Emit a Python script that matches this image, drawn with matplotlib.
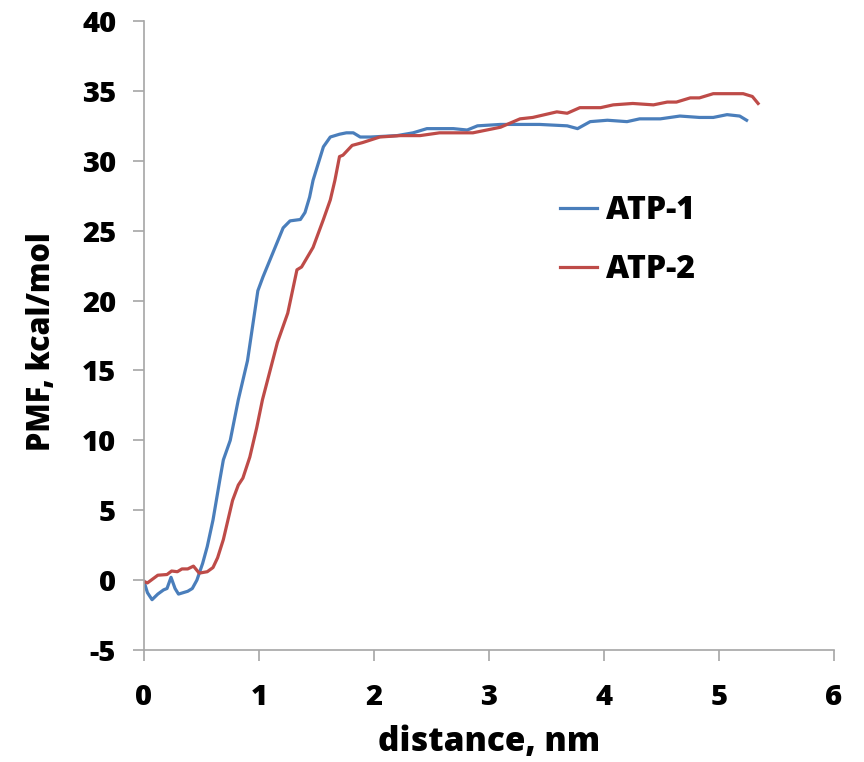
import matplotlib
matplotlib.use("Agg")
import matplotlib.pyplot as plt

# PMF curves
atp1_x = [0, 0.03, 0.07, 0.12, 0.17, 0.2, 0.235, 0.27, 0.3, 0.38, 0.42, 0.46,
          0.51, 0.55, 0.6, 0.66, 0.69, 0.75, 0.82, 0.9, 0.99, 1.035, 1.12, 1.21,
          1.27, 1.36, 1.40, 1.44, 1.47, 1.56, 1.62, 1.70, 1.76, 1.82, 1.88, 1.97,
          2.2, 2.34, 2.46, 2.69, 2.81, 2.9, 3.1, 3.27, 3.44, 3.68, 3.77, 3.88,
          4.03, 4.2, 4.31, 4.49, 4.66, 4.83, 4.95, 5.07, 5.18, 5.24]
atp1_y = [-0.1, -0.9, -1.4, -1.0, -0.7, -0.6, 0.2, -0.6, -1.0, -0.8, -0.6, 0.0,
          1.2, 2.4, 4.3, 7.2, 8.6, 10.0, 12.9, 15.7, 20.7, 21.7, 23.4, 25.2,
          25.7, 25.8, 26.3, 27.4, 28.6, 31.0, 31.7, 31.9, 32.0, 32.0, 31.7, 31.7,
          31.8, 32.0, 32.3, 32.3, 32.2, 32.5, 32.6, 32.6, 32.6, 32.5, 32.3, 32.8,
          32.9, 32.8, 33.0, 33.0, 33.2, 33.1, 33.1, 33.3, 33.2, 32.9]

atp2_x = [0, 0.03, 0.12, 0.2, 0.24, 0.29, 0.33, 0.38, 0.43, 0.48, 0.55, 0.6,
          0.64, 0.69, 0.77, 0.82, 0.86, 0.92, 0.98, 1.03, 1.16, 1.25, 1.33, 1.37,
          1.47, 1.56, 1.62, 1.66, 1.70, 1.73, 1.81, 1.90, 2.05, 2.23, 2.4, 2.57,
          2.86, 3.1, 3.27, 3.38, 3.59, 3.68, 3.79, 3.97, 4.08, 4.25, 4.43, 4.55,
          4.63, 4.75, 4.83, 4.95, 5.12, 5.21, 5.29, 5.34]
atp2_y = [-0.1, -0.2, 0.35, 0.4, 0.65, 0.6, 0.8, 0.8, 1.0, 0.5, 0.6, 0.9,
          1.6, 2.9, 5.7, 6.8, 7.3, 8.8, 10.9, 12.9, 17.0, 19.1, 22.2, 22.4,
          23.8, 25.8, 27.2, 28.6, 30.3, 30.4, 31.1, 31.3, 31.7, 31.8, 31.8, 32.0,
          32.0, 32.4, 33.0, 33.1, 33.5, 33.4, 33.8, 33.8, 34.0, 34.1, 34.0, 34.2,
          34.2, 34.5, 34.5, 34.8, 34.8, 34.8, 34.6, 34.1]

x_ticks = [0, 1, 2, 3, 4, 5, 6]
y_ticks = [-5, 0, 5, 10, 15, 20, 25, 30, 35, 40]

plt.rcParams["font.family"] = ["Open Sans", "DejaVu Sans"]
plt.rcParams["font.weight"] = "heavy"
plt.rcParams["axes.unicode_minus"] = False

fig = plt.figure(figsize=(8.64, 7.62), dpi=100)
ax = fig.add_axes([144 / 864, 1 - 650 / 762, 690 / 864, 629 / 762])

ax.plot(atp1_x, atp1_y, color="#4a7ebb", lw=2.3, label="ATP-1")
ax.plot(atp2_x, atp2_y, color="#be4b48", lw=2.3, label="ATP-2")

ax.set_xlim(0, 6)
ax.set_ylim(-5, 40)
ax.set_xticks(x_ticks)
ax.set_yticks(y_ticks)
ax.tick_params(labelsize=21, length=8, color="#a6a6a6", width=1.2)
ax.tick_params(axis="y", pad=12)
ax.tick_params(axis="x", pad=16)
for lab in ax.get_xticklabels() + ax.get_yticklabels():
    lab.set_fontweight("heavy")

for side in ["top", "right"]:
    ax.spines[side].set_visible(False)
for side in ["left", "bottom"]:
    ax.spines[side].set_color("#a6a6a6")
    ax.spines[side].set_linewidth(1.2)

ax.set_xlabel("distance, nm", fontsize=24, fontweight="heavy")
ax.set_ylabel("PMF, kcal/mol", fontsize=22, fontweight="heavy")
ax.xaxis.set_label_coords(0.5, -0.12)
ax.yaxis.set_label_coords(-0.125, 0.491)

ax.legend(loc="upper left", bbox_to_anchor=(0.603, 0.723), frameon=False,
          handlelength=1.15, handletextpad=0.3, labelspacing=0.85,
          borderpad=0, borderaxespad=0, prop={"weight": "heavy", "size": 23})

fig.savefig("out.png", dpi=100)
